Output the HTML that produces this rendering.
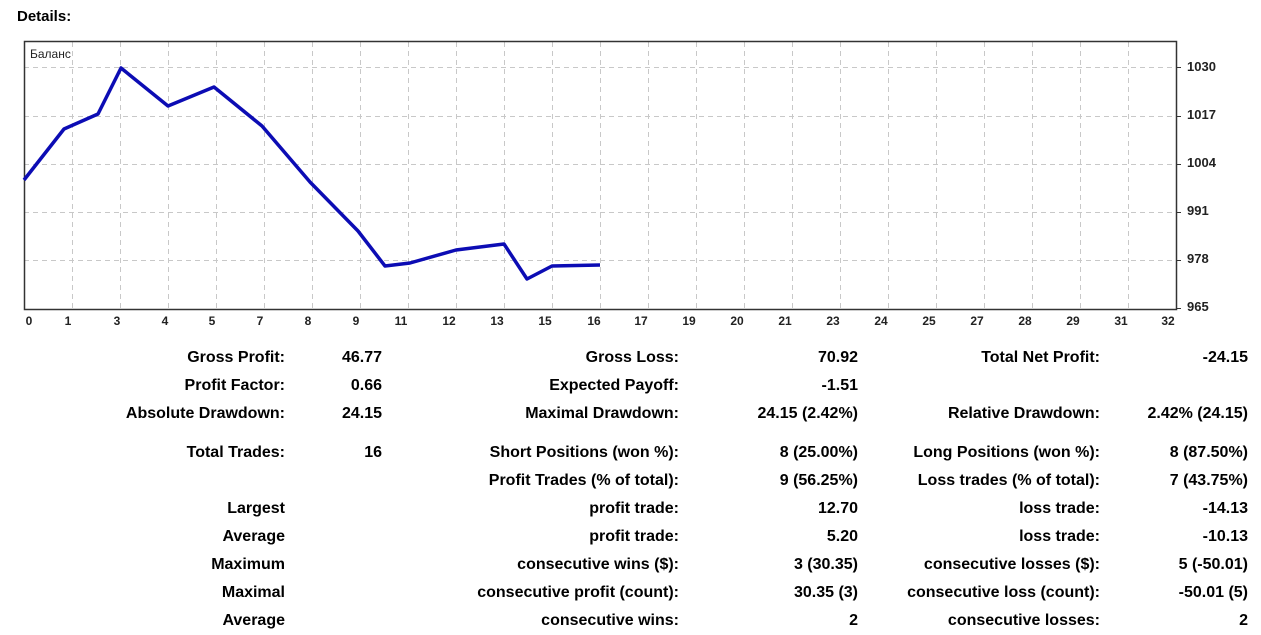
<!DOCTYPE html>
<html><head><meta charset="utf-8"><style>
body{margin:0;width:1261px;height:635px;background:#fff;font-family:"Liberation Sans",sans-serif;position:relative;overflow:hidden}
.t{position:absolute;font-weight:bold;font-size:16px;color:#000;white-space:nowrap;line-height:18px}
.r{transform:translateX(-100%)}
</style></head><body>
<div class="t" style="left:17px;top:8px;font-size:15px">Details:</div>
<svg width="1261" height="340" style="position:absolute;left:0;top:0" font-family="Liberation Sans,sans-serif">
<g stroke="#c8c8c8" stroke-dasharray="5,4" stroke-width="1">
<line x1="24" y1="67.5" x2="1176" y2="67.5"/><line x1="24" y1="116.5" x2="1176" y2="116.5"/><line x1="24" y1="164.5" x2="1176" y2="164.5"/><line x1="24" y1="212.5" x2="1176" y2="212.5"/><line x1="24" y1="260.5" x2="1176" y2="260.5"/>
</g>
<g stroke="#c8c8c8" stroke-dasharray="5,4">
<line x1="72.5" y1="42" x2="72.5" y2="309"/><line x1="120.5" y1="42" x2="120.5" y2="309"/><line x1="168.5" y1="42" x2="168.5" y2="309"/><line x1="216.5" y1="42" x2="216.5" y2="309"/><line x1="264.5" y1="42" x2="264.5" y2="309"/><line x1="312.5" y1="42" x2="312.5" y2="309"/><line x1="360.5" y1="42" x2="360.5" y2="309"/><line x1="408.5" y1="42" x2="408.5" y2="309"/><line x1="456.5" y1="42" x2="456.5" y2="309"/><line x1="504.5" y1="42" x2="504.5" y2="309"/><line x1="552.5" y1="42" x2="552.5" y2="309"/><line x1="600.5" y1="42" x2="600.5" y2="309"/><line x1="648.5" y1="42" x2="648.5" y2="309"/><line x1="696.5" y1="42" x2="696.5" y2="309"/><line x1="744.5" y1="42" x2="744.5" y2="309"/><line x1="792.5" y1="42" x2="792.5" y2="309"/><line x1="840.5" y1="42" x2="840.5" y2="309"/><line x1="888.5" y1="42" x2="888.5" y2="309"/><line x1="936.5" y1="42" x2="936.5" y2="309"/><line x1="984.5" y1="42" x2="984.5" y2="309"/><line x1="1032.5" y1="42" x2="1032.5" y2="309"/><line x1="1080.5" y1="42" x2="1080.5" y2="309"/><line x1="1128.5" y1="42" x2="1128.5" y2="309"/>
</g>
<rect x="24.5" y="41.5" width="1152" height="268" fill="none" stroke="#333" stroke-width="1.5"/>
<polyline fill="none" stroke="#0c0cb4" stroke-width="3.5" stroke-linejoin="round" points="24,180 64,129 98,114 121,68 168,106 214,87 262,126 310,182 358,231 385,266 410,263 456,250 504,244 527,279 552,266 600,265"/>
<text x="30" y="58" font-size="12" fill="#222">Баланс</text>
<g font-size="13" fill="#222" font-weight="bold">
<text x="1187" y="71">1030</text><text x="1187" y="119">1017</text><text x="1187" y="167">1004</text><text x="1187" y="215">991</text><text x="1187" y="263">978</text><text x="1187" y="311">965</text>
</g>
<g stroke="#333"><line x1="1177" y1="67.5" x2="1181" y2="67.5"/><line x1="1177" y1="116.5" x2="1181" y2="116.5"/><line x1="1177" y1="164.5" x2="1181" y2="164.5"/><line x1="1177" y1="212.5" x2="1181" y2="212.5"/><line x1="1177" y1="260.5" x2="1181" y2="260.5"/><line x1="1177" y1="308.5" x2="1181" y2="308.5"/></g>
<g font-size="12" fill="#222" font-weight="bold" text-anchor="middle">
<text x="29" y="325">0</text><text x="68" y="325">1</text><text x="117" y="325">3</text><text x="165" y="325">4</text><text x="212" y="325">5</text><text x="260" y="325">7</text><text x="308" y="325">8</text><text x="356" y="325">9</text><text x="401" y="325">11</text><text x="449" y="325">12</text><text x="497" y="325">13</text><text x="545" y="325">15</text><text x="594" y="325">16</text><text x="641" y="325">17</text><text x="689" y="325">19</text><text x="737" y="325">20</text><text x="785" y="325">21</text><text x="833" y="325">23</text><text x="881" y="325">24</text><text x="929" y="325">25</text><text x="977" y="325">27</text><text x="1025" y="325">28</text><text x="1073" y="325">29</text><text x="1121" y="325">31</text><text x="1168" y="325">32</text>
</g>
</svg>
<div class="t r" style="left:285px;top:349px">Gross Profit:</div><div class="t r" style="left:382px;top:349px">46.77</div>
<div class="t r" style="left:679px;top:349px">Gross Loss:</div><div class="t r" style="left:858px;top:349px">70.92</div>
<div class="t r" style="left:1100px;top:349px">Total Net Profit:</div><div class="t r" style="left:1248px;top:349px">-24.15</div>
<div class="t r" style="left:285px;top:377px">Profit Factor:</div><div class="t r" style="left:382px;top:377px">0.66</div>
<div class="t r" style="left:679px;top:377px">Expected Payoff:</div><div class="t r" style="left:858px;top:377px">-1.51</div>
<div class="t r" style="left:285px;top:405px">Absolute Drawdown:</div><div class="t r" style="left:382px;top:405px">24.15</div>
<div class="t r" style="left:679px;top:405px">Maximal Drawdown:</div><div class="t r" style="left:858px;top:405px">24.15 (2.42%)</div>
<div class="t r" style="left:1100px;top:405px">Relative Drawdown:</div><div class="t r" style="left:1248px;top:405px">2.42% (24.15)</div>
<div class="t r" style="left:285px;top:444px">Total Trades:</div><div class="t r" style="left:382px;top:444px">16</div>
<div class="t r" style="left:679px;top:444px">Short Positions (won %):</div><div class="t r" style="left:858px;top:444px">8 (25.00%)</div>
<div class="t r" style="left:1100px;top:444px">Long Positions (won %):</div><div class="t r" style="left:1248px;top:444px">8 (87.50%)</div>
<div class="t r" style="left:679px;top:472px">Profit Trades (% of total):</div><div class="t r" style="left:858px;top:472px">9 (56.25%)</div>
<div class="t r" style="left:1100px;top:472px">Loss trades (% of total):</div><div class="t r" style="left:1248px;top:472px">7 (43.75%)</div>
<div class="t r" style="left:285px;top:500px">Largest</div><div class="t r" style="left:679px;top:500px">profit trade:</div><div class="t r" style="left:858px;top:500px">12.70</div><div class="t r" style="left:1100px;top:500px">loss trade:</div><div class="t r" style="left:1248px;top:500px">-14.13</div>
<div class="t r" style="left:285px;top:528px">Average</div><div class="t r" style="left:679px;top:528px">profit trade:</div><div class="t r" style="left:858px;top:528px">5.20</div><div class="t r" style="left:1100px;top:528px">loss trade:</div><div class="t r" style="left:1248px;top:528px">-10.13</div>
<div class="t r" style="left:285px;top:556px">Maximum</div><div class="t r" style="left:679px;top:556px">consecutive wins ($):</div><div class="t r" style="left:858px;top:556px">3 (30.35)</div><div class="t r" style="left:1100px;top:556px">consecutive losses ($):</div><div class="t r" style="left:1248px;top:556px">5 (-50.01)</div>
<div class="t r" style="left:285px;top:584px">Maximal</div><div class="t r" style="left:679px;top:584px">consecutive profit (count):</div><div class="t r" style="left:858px;top:584px">30.35 (3)</div><div class="t r" style="left:1100px;top:584px">consecutive loss (count):</div><div class="t r" style="left:1248px;top:584px">-50.01 (5)</div>
<div class="t r" style="left:285px;top:612px">Average</div><div class="t r" style="left:679px;top:612px">consecutive wins:</div><div class="t r" style="left:858px;top:612px">2</div><div class="t r" style="left:1100px;top:612px">consecutive losses:</div><div class="t r" style="left:1248px;top:612px">2</div>
</body></html>
